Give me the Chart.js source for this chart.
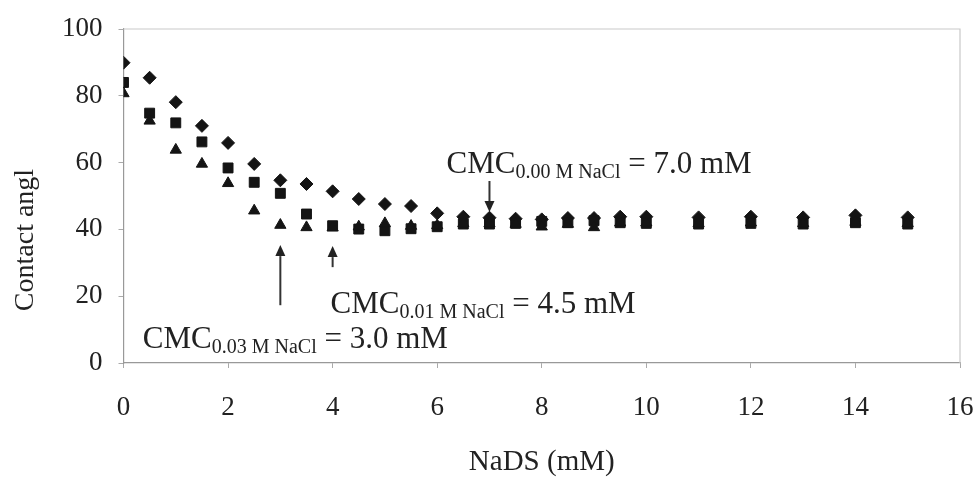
<!DOCTYPE html>
<html>
<head>
<meta charset="utf-8">
<script src="https://cdn.jsdelivr.net/npm/chart.js@4.4.1/dist/chart.umd.min.js"></script>
<style>
  html, body { margin: 0; padding: 0; background: #fff; }
  #wrap { width: 978px; height: 477px; }
</style>
</head>
<body>
<div id="wrap"><canvas id="c" width="978" height="477"></canvas></div>
<script>
// ---- data ----
const naDS = [0,0.5,1,1.5,2,2.5,3,3.5,4,4.5,5,5.5,6,6.5,7,7.5,8,8.5,9,9.5,10,11,12,13,14,15];
const angle000 = [89.9,85.4,78.1,71.0,65.9,59.6,54.7,53.6,51.4,49.1,47.6,47.0,44.8,43.8,43.5,43.2,43.0,43.4,43.4,43.8,43.8,43.6,43.8,43.6,44.2,43.6];
const angle001 = [84.0,74.8,71.9,66.2,58.4,54.1,50.8,44.6,41.1,40.1,39.6,40.2,40.8,41.6,41.6,41.8,42.4,42.0,42.6,42.0,41.8,41.6,41.8,41.6,42.0,41.6];
const angle003 = [80.7,72.5,63.8,59.6,53.8,45.6,41.3,40.6,40.5,40.8,41.8,41.0,41.2,41.8,41.8,41.6,40.8,41.6,40.6,42.0,42.0,41.8,42.0,41.8,42.2,41.8];
const xTicks = [0,2,4,6,8,10,12,14,16];
const yTicks = [0,20,40,60,80,100];
const cmcValues = [7.0, 4.5, 3.0];
const cmcSubs = ['0.00 M NaCl', '0.01 M NaCl', '0.03 M NaCl'];
const cmcArrowX = [7, 4, 3];

// annotation placement (data coordinates): [textX, textBaselineY, arrowTailY, arrowTipY]
const cmcPlace = [
  [6.18, 56.9, 54.5, 45.2],
  [3.96, 15.0, 28.7, 35.0],
  [0.37, 4.5, 17.3, 35.3]
];

function pts(ys) { return naDS.map((x, i) => ({x: x, y: ys[i]})); }

const serif = "'Liberation Serif', 'DejaVu Serif', serif";
const ink = '#141414';

const annotPlugin = {
  id: 'annot',
  afterDatasetsDraw(chart) {
    const ctx = chart.ctx, xs = chart.scales.x, ys = chart.scales.y;
    ctx.save();
    // y title (visible portion in reference)
    ctx.save();
    ctx.translate(26, 240);
    ctx.rotate(-Math.PI / 2);
    ctx.fillStyle = '#222';
    ctx.font = '28px ' + serif;
    ctx.textAlign = 'center';
    ctx.textBaseline = 'middle';
    ctx.fillText('Contact angl', 0, 0);
    ctx.restore();

    for (let i = 0; i < cmcValues.length; i++) {
      const p = cmcPlace[i];
      let x = xs.getPixelForValue(p[0]);
      const y = ys.getPixelForValue(p[1]);
      ctx.fillStyle = '#222';
      ctx.textBaseline = 'alphabetic';
      ctx.textAlign = 'left';
      ctx.font = '31px ' + serif;
      ctx.fillText('CMC', x, y);
      x += ctx.measureText('CMC').width;
      ctx.font = '20px ' + serif;
      ctx.fillText(cmcSubs[i], x, y + 5);
      x += ctx.measureText(cmcSubs[i]).width;
      ctx.font = '31px ' + serif;
      ctx.fillText(' = ' + cmcValues[i].toFixed(1) + ' mM', x, y);

      // arrow
      const ax = xs.getPixelForValue(cmcArrowX[i]);
      const tail = ys.getPixelForValue(p[2]);
      const tip = ys.getPixelForValue(p[3]);
      const dir = tip > tail ? 1 : -1;
      const head = 11;
      ctx.strokeStyle = '#333';
      ctx.lineWidth = 2;
      ctx.beginPath();
      ctx.moveTo(ax, tail);
      ctx.lineTo(ax, tip - dir * head);
      ctx.stroke();
      ctx.fillStyle = '#222';
      ctx.beginPath();
      ctx.moveTo(ax, tip);
      ctx.lineTo(ax - 5, tip - dir * head);
      ctx.lineTo(ax + 5, tip - dir * head);
      ctx.closePath();
      ctx.fill();
    }
    ctx.restore();
  },
  beforeDatasetsDraw(chart) {
    const ctx = chart.ctx, a = chart.chartArea;
    ctx.save();
    ctx.strokeStyle = '#c9c9c9';
    ctx.lineWidth = 1.2;
    ctx.beginPath();
    ctx.moveTo(a.left, a.top); ctx.lineTo(a.right, a.top); ctx.lineTo(a.right, a.bottom);
    ctx.stroke();
    ctx.restore();
  }
};

const mk = (label, data, style, r) => ({
  label, data: pts(data), pointStyle: style, pointRadius: r, pointHoverRadius: r,
  backgroundColor: ink, borderColor: ink, borderWidth: 1, showLine: false
});

new Chart(document.getElementById('c'), {
  type: 'scatter',
  data: {
    datasets: [
      mk('0.03 M NaCl', angle003, 'triangle', 6.5),
      mk('0.01 M NaCl', angle001, 'rect', 7),
      mk('0.00 M NaCl', angle000, 'rectRot', 6.5)
    ]
  },
  options: {
    responsive: false,
    animation: false,
    devicePixelRatio: 1,
    layout: { padding: { left: 0, right: 18, top: 29, bottom: 0 } },
    plugins: { legend: { display: false }, tooltip: { enabled: false } },
    scales: {
      x: {
        type: 'linear', min: 0, max: 16,
        afterBuildTicks(s) { s.ticks = xTicks.map(v => ({value: v})); },
        afterFit(s) { s.height = 114; s.paddingRight = 0; s.paddingLeft = 0; },
        grid: { drawOnChartArea: false, tickLength: 5, color: '#aaa' },
        border: { color: '#999', width: 1.2 },
        ticks: { color: '#222', font: { family: serif, size: 27 }, padding: 24, maxRotation: 0 },
        title: { display: true, text: 'NaDS (mM)', color: '#222', font: { family: serif, size: 29, lineHeight: 1 }, padding: { top: 10, bottom: 0 } }
      },
      y: {
        type: 'linear', min: 0, max: 100,
        afterBuildTicks(s) { s.ticks = yTicks.map(v => ({value: v})); },
        afterFit(s) { s.width = 123.5; s.paddingTop = 0; s.paddingBottom = 0; },
        grid: { drawOnChartArea: false, tickLength: 5, color: '#aaa' },
        border: { color: '#999', width: 1.2 },
        ticks: { color: '#222', font: { family: serif, size: 27 }, padding: 16 },
        title: { display: false }
      }
    }
  },
  plugins: [annotPlugin]
});
</script>
</body>
</html>
